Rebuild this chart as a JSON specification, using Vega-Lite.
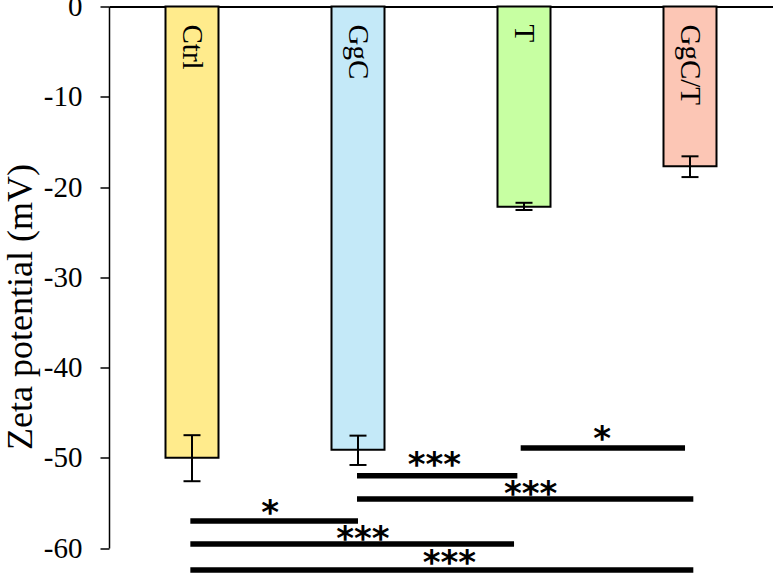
{
  "$schema": "https://vega.github.io/schema/vega-lite/v6.json",
  "width": 664,
  "height": 541.5,
  "autosize": {"type": "none"},
  "padding": {"left": 109, "top": 6.5, "right": 0, "bottom": 25},
  "background": "white",
  "config": {"view": {"stroke": null}, "font": "Liberation Serif"},
  "datasets": {
    "bars": [
      {"group": "Ctrl", "value": -50.0, "lo": -47.5, "hi": -52.6},
      {"group": "GgC", "value": -49.1, "lo": -47.55, "hi": -50.8},
      {"group": "T", "value": -22.2, "lo": -21.75, "hi": -22.55},
      {"group": "GgC/T", "value": -17.7, "lo": -16.6, "hi": -18.9}
    ],
    "sig": [
      {"x1": 0.49, "x2": 1.5, "y": -57.0, "tx": 0.97, "ty": -55.35, "label": "*"},
      {"x1": 0.49, "x2": 2.44, "y": -59.56, "tx": 1.53, "ty": -58.2, "label": "***"},
      {"x1": 0.49, "x2": 3.52, "y": -62.45, "tx": 2.05, "ty": -60.9, "label": "***"},
      {"x1": 1.494, "x2": 2.46, "y": -52.0, "tx": 1.96, "ty": -50.0, "label": "***"},
      {"x1": 1.494, "x2": 3.52, "y": -54.57, "tx": 2.54, "ty": -53.2, "label": "***"},
      {"x1": 2.48, "x2": 3.47, "y": -48.92, "tx": 2.97, "ty": -47.1, "label": "*"}
    ]
  },
  "layer": [
    {
      "data": {"name": "bars"},
      "layer": [
        {
          "mark": {"type": "bar", "size": 53, "stroke": "black", "strokeWidth": 2},
          "encoding": {
            "x": {"field": "group", "type": "nominal", "sort": null,
              "scale": {"paddingInner": 0, "paddingOuter": 0},
              "axis": {"orient": "top", "title": null, "labels": false, "ticks": false, "domainColor": "black", "domainWidth": 2}},
            "y": {"field": "value", "type": "quantitative",
              "scale": {"domain": [-60, 0], "nice": false, "zero": false},
              "axis": {"title": "Zeta potential (mV)", "titleFont": "Liberation Serif", "titleFontSize": 36, "titleFontWeight": "normal", "titleColor": "black", "titleY": 300, "titleX": -78, "titleBaseline": "alphabetic",
                "values": [0, -10, -20, -30, -40, -50, -60], "labelExpr": "'' + datum.value", "labelFont": "Liberation Serif", "labelFontSize": 29, "labelColor": "black", "labelPadding": 18,
                "tickSize": 9, "tickWidth": 1.5, "tickColor": "black", "domainColor": "black", "domainWidth": 1.5, "grid": false}},
            "y2": {"datum": 0},
            "color": {"field": "group", "type": "nominal", "sort": null,
              "scale": {"domain": ["Ctrl", "GgC", "T", "GgC/T"], "range": ["#FFEB8C", "#C4E9F8", "#C7FFA2", "#FCC6B5"]}, "legend": null}
          }
        },
        {
          "mark": {"type": "rule", "stroke": "black", "strokeWidth": 2},
          "encoding": {
            "x": {"field": "group", "type": "nominal", "sort": null},
            "y": {"field": "lo", "type": "quantitative", "title": "Zeta potential (mV)"},
            "y2": {"field": "hi"}
          }
        },
        {
          "mark": {"type": "tick", "orient": "horizontal", "size": 17, "thickness": 2, "color": "black", "opacity": 1},
          "encoding": {
            "x": {"field": "group", "type": "nominal", "sort": null},
            "y": {"field": "lo", "type": "quantitative", "title": "Zeta potential (mV)"}
          }
        },
        {
          "mark": {"type": "tick", "orient": "horizontal", "size": 17, "thickness": 2, "color": "black", "opacity": 1},
          "encoding": {
            "x": {"field": "group", "type": "nominal", "sort": null},
            "y": {"field": "hi", "type": "quantitative", "title": "Zeta potential (mV)"}
          }
        },
        {
          "mark": {"type": "text", "angle": 90, "align": "left", "baseline": "middle", "dx": 18, "font": "Liberation Serif", "fontSize": 29, "color": "black"},
          "encoding": {
            "x": {"field": "group", "type": "nominal", "sort": null},
            "y": {"datum": 0},
            "text": {"field": "group"}
          }
        }
      ]
    },
    {
      "data": {"name": "sig"},
      "layer": [
        {
          "mark": {"type": "rule", "stroke": "black", "strokeWidth": 5.5, "strokeCap": "butt"},
          "encoding": {
            "x": {"field": "x1", "type": "quantitative", "scale": {"domain": [0, 4], "nice": false, "zero": false}, "axis": null},
            "x2": {"field": "x2"},
            "y": {"field": "y", "type": "quantitative", "title": "Zeta potential (mV)"}
          }
        },
        {
          "mark": {"type": "text", "font": "DejaVu Sans", "fontSize": 34, "fontWeight": "bold", "baseline": "middle", "dy": 8, "color": "black"},
          "encoding": {
            "x": {"field": "tx", "type": "quantitative", "scale": {"domain": [0, 4], "nice": false, "zero": false}, "axis": null},
            "y": {"field": "ty", "type": "quantitative", "title": "Zeta potential (mV)"},
            "text": {"field": "label"}
          }
        }
      ]
    }
  ],
  "resolve": {"scale": {"x": "independent", "color": "independent"}}
}
